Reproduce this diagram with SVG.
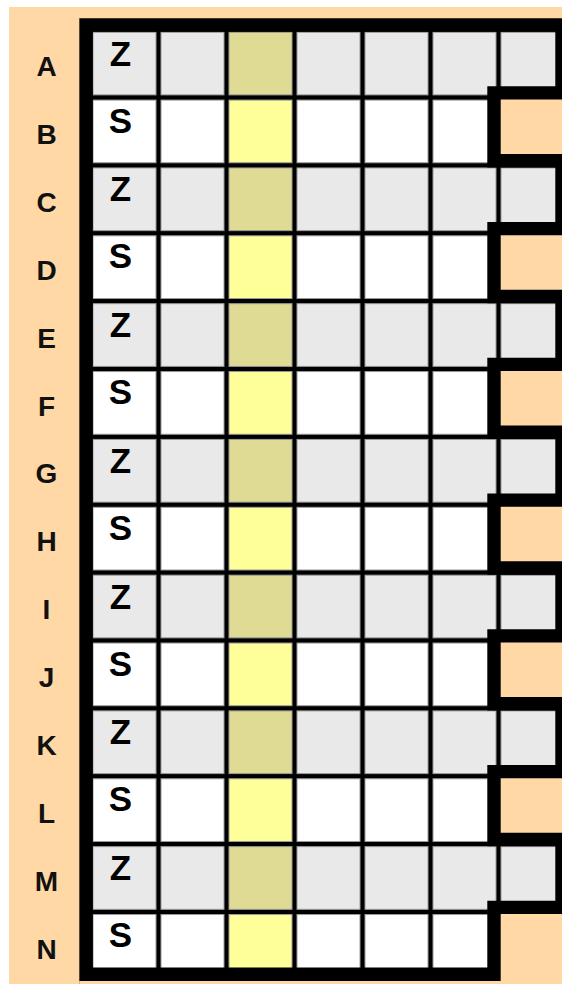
<svg xmlns="http://www.w3.org/2000/svg" xmlns:xlink="http://www.w3.org/1999/xlink" width="562" height="984" viewBox="0 0 562 984">
  <style>
    .cell { stroke: #9a9a9a; stroke-width: 1; }
    .z { fill: #E9E9E9; }
    .zy { fill: #DFDB94; }
    .s { fill: #FFFFFF; }
    .sy { fill: #FFFF99; }
    .lbl { font-family: "Liberation Sans", Arial, sans-serif; font-weight: bold; font-size: 28px; fill: #111; text-anchor: middle; }
    .mark { font-family: "Liberation Sans", Arial, sans-serif; font-weight: bold; font-size: 35px; fill: #000; text-anchor: middle; }
    .frameFill { fill: #000; stroke: none; }
    .frameLine { fill: none; stroke: #000; stroke-width: 13.4; stroke-linejoin: miter; }
  </style>
  <defs>
    <path id="outline" d="M 86.1 974.2 V 25 H 562 V 92.9 H 494 V 160.77 H 562 V 228.64 H 494 V 296.51 H 562 V 364.38 H 494 V 432.25 H 562 V 500.12 H 494 V 567.99 H 562 V 635.86 H 494 V 703.73 H 562 V 771.6 H 494 V 839.47 H 562 V 907.34 H 494 V 974.2 Z"/>
    <g id="zrow">
      <rect class="cell z" x="93" y="0.5" width="63" height="62.7"/>
      <rect class="cell z" x="161" y="0.5" width="63" height="62.7"/>
      <rect class="cell zy" x="229" y="0.5" width="63" height="62.7"/>
      <rect class="cell z" x="297" y="0.5" width="63" height="62.7"/>
      <rect class="cell z" x="365" y="0.5" width="63" height="62.7"/>
      <rect class="cell z" x="433" y="0.5" width="63" height="62.7"/>
      <rect class="cell z" x="501" y="0.5" width="63" height="62.7"/>
      <text class="mark" x="120.5" y="34">Z</text>
    </g>
    <g id="srow">
      <rect class="cell s" x="93" y="0.5" width="63" height="62.7"/>
      <rect class="cell s" x="161" y="0.5" width="63" height="62.7"/>
      <rect class="cell sy" x="229" y="0.5" width="63" height="62.7"/>
      <rect class="cell s" x="297" y="0.5" width="63" height="62.7"/>
      <rect class="cell s" x="365" y="0.5" width="63" height="62.7"/>
      <rect class="cell s" x="433" y="0.5" width="63" height="62.7"/>
      <text class="mark" x="120.5" y="33">S</text>
    </g>
  </defs>

  <rect id="background" x="9" y="7" width="553" height="977" fill="#FFD8A6"/>
  <line x1="79.5" y1="18" x2="79.5" y2="984" stroke="#D2B27E" stroke-width="1"/>

  <g id="frame-fill">
    <use xlink:href="#outline" class="frameFill"/>
  </g>

  <g id="row-A"><use xlink:href="#zrow" y="31.7"/><text class="lbl" x="46.5" y="76.2">A</text></g>
  <g id="row-B"><use xlink:href="#srow" y="99.57"/><text class="lbl" x="46.5" y="144.07">B</text></g>
  <g id="row-C"><use xlink:href="#zrow" y="167.44"/><text class="lbl" x="46.5" y="211.94">C</text></g>
  <g id="row-D"><use xlink:href="#srow" y="235.31"/><text class="lbl" x="46.5" y="279.81">D</text></g>
  <g id="row-E"><use xlink:href="#zrow" y="303.18"/><text class="lbl" x="46.5" y="347.68">E</text></g>
  <g id="row-F"><use xlink:href="#srow" y="371.05"/><text class="lbl" x="46.5" y="415.55">F</text></g>
  <g id="row-G"><use xlink:href="#zrow" y="438.92"/><text class="lbl" x="46.5" y="483.42">G</text></g>
  <g id="row-H"><use xlink:href="#srow" y="506.79"/><text class="lbl" x="46.5" y="551.29">H</text></g>
  <g id="row-I"><use xlink:href="#zrow" y="574.66"/><text class="lbl" x="46.5" y="619.16">I</text></g>
  <g id="row-J"><use xlink:href="#srow" y="642.53"/><text class="lbl" x="46.5" y="687.03">J</text></g>
  <g id="row-K"><use xlink:href="#zrow" y="710.4"/><text class="lbl" x="46.5" y="754.9">K</text></g>
  <g id="row-L"><use xlink:href="#srow" y="778.27"/><text class="lbl" x="46.5" y="822.77">L</text></g>
  <g id="row-M"><use xlink:href="#zrow" y="846.14"/><text class="lbl" x="46.5" y="890.64">M</text></g>
  <g id="row-N"><use xlink:href="#srow" y="914.01"/><text class="lbl" x="46.5" y="958.51">N</text></g>

  <g id="frame-outline">
    <use xlink:href="#outline" class="frameLine"/>
  </g>
</svg>
